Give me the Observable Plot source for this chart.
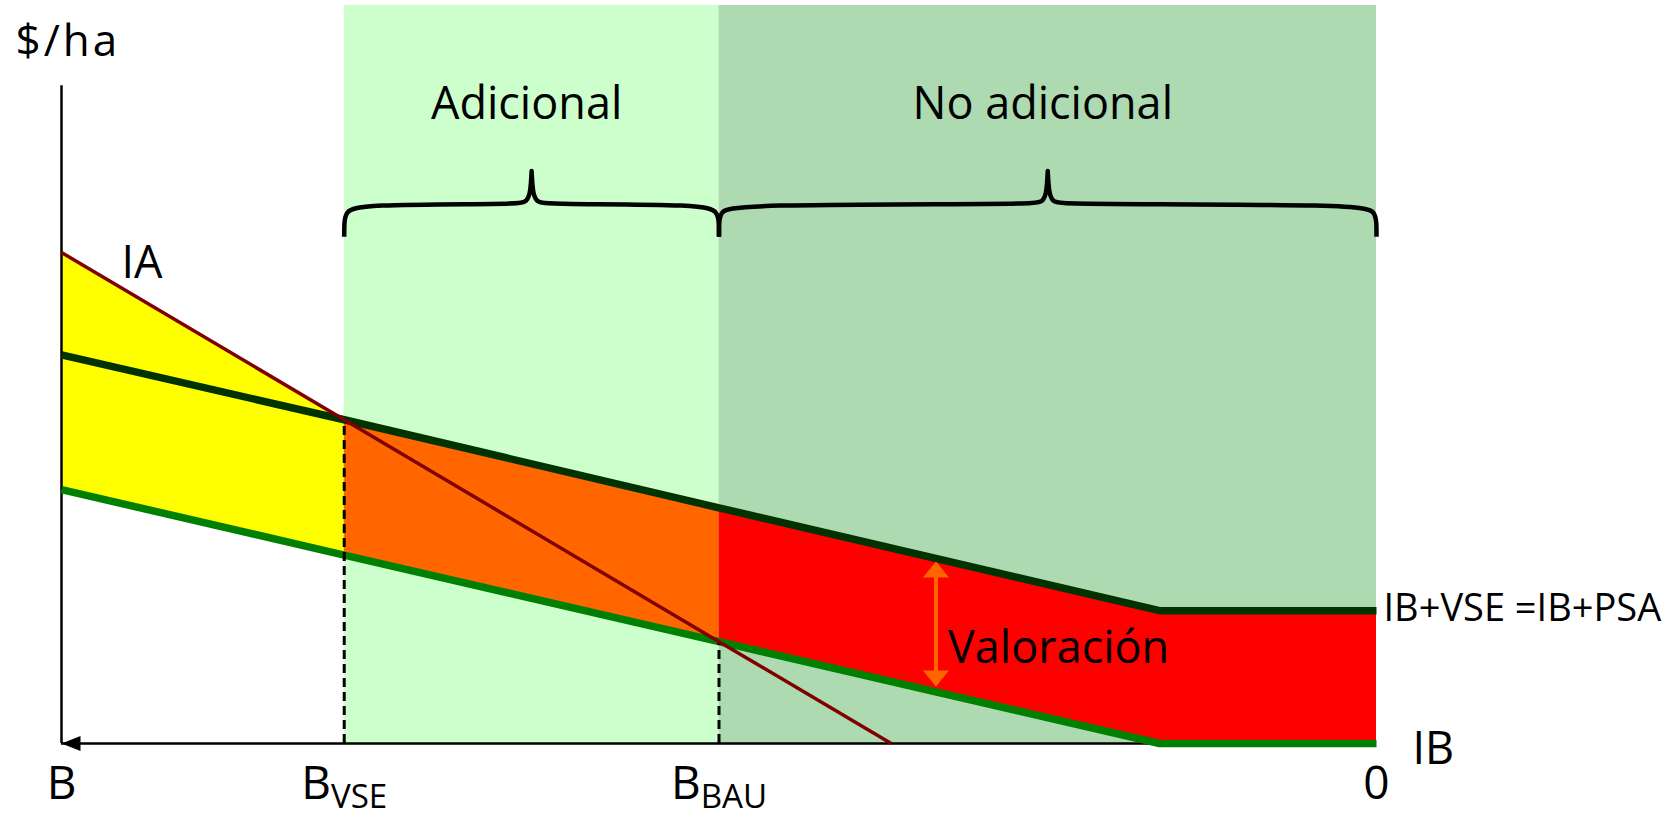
<!DOCTYPE html>
<html>
<head>
<meta charset="utf-8">
<script src="https://cdn.jsdelivr.net/npm/d3@7"></script>
<script src="https://cdn.jsdelivr.net/npm/@observablehq/plot@0.6"></script>
<style>
  html, body { margin: 0; padding: 0; background: #ffffff; overflow: hidden; }
  #chart svg { display: block; }
</style>
</head>
<body>
<div id="chart"></div>
<script>
// ---------------- data ----------------
// horizontal axis: stock of forest "B" decreasing from B (left) to 0 (right)
const xTickValues = [100, 78.5, 50, 0];
const xTickLabels = ["B", "B_VSE", "B_BAU", "0"];

// breakpoints of the income lines
const bPoints = [100, 78.5, 50, 16.5, 0];
const ibVse   = [79.0, 65.8, 47.9, 27.0, 27.0];   // IB+VSE = IB+PSA
const ib      = [51.6, 38.3, 20.7, 0, 0];         // IB

// IA (agricultural income) line
const iaX = [100, 78.5, 50, 36.9];
const iaY = [99.8, 65.8, 20.7, 0];

// shaded regions
const regionNames = ["Adicional", "No adicional"];
const regionStart = [78.5, 50];
const regionEnd   = [50, 0];

// "Valoración" arrow
const valX = 33.5, valTop = 37.0, valBottom = 11.6;

// ---------------- tables ----------------
const lineData = bPoints.map((b, i) => ({b, hi: ibVse[i], lo: ib[i]}));
const iaData = iaX.map((b, i) => ({b, y: iaY[i]}));
const yellowData = [0, 1].map(i => ({b: bPoints[i], lo: ib[i], hi: iaY[i]}));
const orangeData = lineData.slice(1, 3);
const redData = lineData.slice(2);
const regions = regionNames.map((name, i) => ({name, x1: regionStart[i], x2: regionEnd[i], xm: (regionStart[i] + regionEnd[i]) / 2}));

// ---------------- helpers ----------------
const X0 = 61, X1 = 1376, Y0 = 743, Y1 = 5;
const ux = 100 / (X1 - X0);   // data units per pixel (x)
const uy = 150 / (Y0 - Y1);   // data units per pixel (y)

// curly brace shape, offsets given in screen pixels from the region ends
function brace(xa, xb) {
  const pa = 0, pb = (xa - xb) / ux, pm = pb / 2;
  const yEnd = 103.0, yBar = 109.6, yTip = 116.5;
  const pts = [
    [pa, yEnd, 0], [pa, yEnd, 0], [pa, yBar, -20], [pa + 1, yBar, -8], [pa + 14, yBar, 0],
    [pm - 16, yBar, 0], [pm - 4, yBar, 2], [pm - 1, yBar, 14], [pm, yTip, -2], [pm, yTip, 0], [pm, yTip, -2],
    [pm + 1, yBar, 14], [pm + 4, yBar, 2], [pm + 16, yBar, 0],
    [pb - 14, yBar, 0], [pb - 1, yBar, -8], [pb, yBar, -20], [pb, yEnd, 0], [pb, yEnd, 0]
  ];
  return pts.map(([px, y, dy]) => ({x: xa - px * ux, y: y + dy * uy}));
}

const upHead = {
  draw(ctx) { ctx.moveTo(0, 0); ctx.lineTo(13, 16); ctx.lineTo(-13, 16); ctx.closePath(); }
};
const leftHead = {
  draw(ctx) { ctx.moveTo(0, 0); ctx.lineTo(19, -7.5); ctx.lineTo(19, 7.5); ctx.closePath(); }
};

const textBase = {fill: "black", stroke: null, lineAnchor: "bottom"};

const svg = Plot.plot({
  width: 1670,
  height: 817,
  margin: 0,
  x: {domain: [100, 0], range: [X0, X1], axis: null},
  y: {domain: [0, 150], range: [Y0, Y1], axis: null},
  style: {fontFamily: "'Open Sans', sans-serif", background: "white", overflow: "visible"},
  marks: [
    // background regions
    Plot.rect([regions[0]], {x1: "x1", x2: "x2", y1: 0, y2: 150, fill: "#CCFFCC"}),
    Plot.rect([regions[1]], {x1: "x1", x2: "x2", y1: 0, y2: 150, fill: "#ADDAB1"}),
    // filled areas
    Plot.areaY(yellowData, {x: "b", y1: "lo", y2: "hi", fill: "#FFFF00"}),
    Plot.areaY(orangeData, {x: "b", y1: "lo", y2: "hi", fill: "#FF6600"}),
    Plot.areaY(redData, {x: "b", y1: "lo", y2: "hi", fill: "#FF0000"}),
    // axes
    Plot.ruleX([100], {y1: 0, y2: 133.7, stroke: "black", strokeWidth: 2.5}),
    Plot.ruleY([0], {x1: 100, x2: 0, stroke: "black", strokeWidth: 2.5}),
    Plot.dot([100], {x: d => d, y: 0, symbol: leftHead, r: 8, fill: "black", stroke: null}),
    // income lines
    Plot.line(lineData, {x: "b", y: "hi", stroke: "#003300", strokeWidth: 7.5, strokeLinecap: "butt", strokeLinejoin: "miter"}),
    Plot.line(lineData, {x: "b", y: "lo", stroke: "#008000", strokeWidth: 7.5, strokeLinecap: "butt", strokeLinejoin: "miter"}),
    // dashed guides
    Plot.ruleX([1], {x: bPoints[1], y1: 0, y2: ibVse[1], stroke: "black", strokeWidth: 3, strokeDasharray: "9,5"}),
    Plot.ruleX([2], {x: bPoints[2], y1: 0, y2: ib[2], stroke: "black", strokeWidth: 3, strokeDasharray: "9,5"}),
    // IA line
    Plot.line(iaData, {x: "b", y: "y", stroke: "#800000", strokeWidth: 3.5, strokeLinecap: "butt"}),
    // Valoración arrow
    Plot.ruleX([valX], {y1: valBottom + 2, y2: valTop - 2, stroke: "#FF6600", strokeWidth: 4}),
    Plot.dot([valTop], {x: valX, y: d => d, symbol: upHead, r: 8, fill: "#FF6600", stroke: null}),
    Plot.dot([valBottom], {x: valX, y: d => d, symbol: upHead, rotate: 180, r: 8, fill: "#FF6600", stroke: null}),
    // braces
    ...regions.map(r => Plot.line(brace(r.x1, r.x2), {x: "x", y: "y", curve: "basis", stroke: "black", strokeWidth: 4.5, strokeLinecap: "butt"})),
    // region labels
    Plot.text(regions, {x: "xm", y: 127.0, dx: -5, text: "name", fontSize: 45, textAnchor: "middle", ...textBase}),
    // other labels
    Plot.text(["$/ha"], {x: 100, y: 139.8, dx: -46, text: d => d, fontSize: 44, textAnchor: "start", ...textBase}),
    Plot.text(["IA"], {x: 100, y: 94.7, dx: 60, text: d => d, fontSize: 45, textAnchor: "start", ...textBase}),
    Plot.text(["Valoración"], {x: valX, y: 16.3, dx: 12, text: d => d, fontSize: 45, textAnchor: "start", ...textBase}),
    Plot.text(["IB+VSE =IB+PSA"], {x: 0, y: ibVse[4], dx: 7, dy: 10, text: d => d, fontSize: 38, textAnchor: "start", ...textBase}),
    Plot.text(["IB"], {x: 0, y: 0, dx: 36, dy: 20, text: d => d, fontSize: 45, textAnchor: "start", ...textBase}),
    // tick labels
    Plot.text(xTickValues, {x: d => d, y: 0, dy: 55, text: (d, i) => xTickLabels[i], fontSize: 46, textAnchor: "middle", ...textBase})
  ]
});

// render subscripts such as B_VSE as B with a lowered, smaller suffix
d3.select(svg).selectAll("text").each(function () {
  const s = this.textContent;
  const m = s.match(/^([A-Za-z]+)_([A-Za-z]+)$/);
  if (m) {
    const t = d3.select(this);
    t.text("");
    t.append("tspan").text(m[1]);
    t.append("tspan").attr("dy", "0.3em").attr("font-size", "0.72em").text(m[2]);
  }
  if (s === "$/ha") d3.select(this).attr("letter-spacing", "3px");
});

document.getElementById("chart").appendChild(svg);
</script>
</body>
</html>
